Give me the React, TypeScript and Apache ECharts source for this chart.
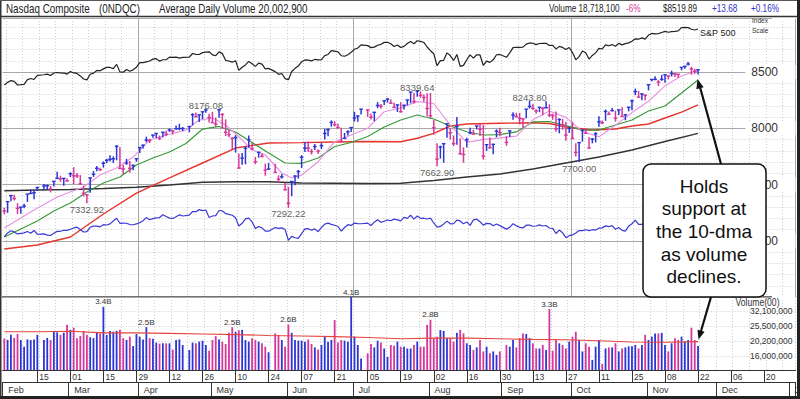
import React, { useEffect, useRef } from "react";
import * as echarts from "echarts";

const SANS = "'Liberation Sans', Arial, Helvetica, sans-serif";
const BLUE = "#2c36d4";
const MAGENTA = "#d7379b";
const NARROW_SCALE = 0.82;

// Daily data indexed by weekday, index 0 = Fri 2019-02-01 (null = market holiday)
const PRIOR_CLOSE = 7281.74;
const CLOSE = [
  7263.87, 7347.54, 7402.08, 7375.28, 7288.35, 7298.2, 7307.9, 7414.62, 7420.38, 7426.95,
  7472.41, null, 7486.77, 7489.07, 7459.71, 7527.54, 7554.46, 7549.3, 7554.51, 7532.53,
  7595.35, 7577.57, 7576.36, 7505.92, 7421.46, 7408.14, 7558.06, 7591.03, 7643.41, 7630.91,
  7688.53, 7714.48, 7723.95, 7728.97, 7838.96, 7642.67, 7637.54, 7691.52, 7643.38, 7669.17,
  7729.32, 7828.91, 7848.69, 7895.55, 7891.78, 7938.69, 7953.88, 7909.28, 7964.24, 7947.36,
  7984.16, 7976.01, 7996.08, 7996.79, 7998.06, null, 8015.27, 8120.82, 8102.01, 8118.68,
  8146.4, 8161.85, 8095.39, 8049.64, 8036.77, 8164.0, 8123.29, 7963.76, 7943.32, 7910.59,
  7916.94, 7647.02, 7734.49, 7822.15, 7898.05, 7816.28, 7702.38, 7785.72, 7750.84, 7628.28,
  7637.01, null, 7607.35, 7547.31, 7567.72, 7453.15, 7333.02, 7527.12, 7575.48, 7615.55,
  7742.1, 7823.17, 7822.57, 7792.72, 7837.13, 7796.66, 7845.02, 7953.88, 7987.32, 8051.34,
  8031.71, 8005.7, 7884.72, 7909.97, 7967.76, 8006.24, 8091.16, 8109.09, 8170.23, null,
  8161.79, 8098.38, 8141.73, 8202.53, 8196.04, 8244.14, 8258.19, 8222.8, 8185.21, 8207.24,
  8146.49, 8204.14, 8251.4, 8321.5, 8238.54, 8330.21, 8293.33, 8273.61, 8175.42, 8111.12,
  8004.07, 7726.04, 7833.27, 7862.83, 8039.16, 7959.14, 7863.41, 8016.36, 7773.94, 7766.62,
  7895.99, 7958.08, 7948.56, 8020.21, 7991.39, 7751.77, 7853.74, 7826.95, 7856.88, 7973.39,
  7962.88, null, 7874.16, 7976.88, 8116.83, 8103.07, 8087.44, 8084.16, 8169.68, 8194.47,
  8176.71, 8153.54, 8186.02, 8177.39, 8182.88, 8117.67, 8112.46, 7993.63, 8077.38, 8030.66,
  7939.63, 7999.34, 7908.68, 7785.25, 7872.27, 7982.47, 7956.29, 7823.78, 7903.74, 7950.78,
  8057.04, 8048.65, 8148.71, 8124.18, 8156.85, 8089.54, 8162.99, 8104.3, 8119.79, 8185.8,
  8243.12, 8325.99, 8276.85, 8303.98, 8292.36, 8386.4, 8433.2, 8434.68, 8410.63, 8434.52,
  8475.31, 8464.28, 8486.09, 8482.1, 8479.02, 8540.83, 8549.94, 8570.66, 8526.73, 8506.21,
  8519.89,
];
const HIGH = [
  7294, 7348, 7406, 7409, 7333, 7300, 7330, 7416, 7455, 7448,
  7480, null, 7505, 7500, 7486, 7528, 7613, 7578, 7558, 7554,
  7608, 7654, 7602, 7584, 7489, 7410, 7560, 7620, 7665, 7650,
  7705, 7728, 7760, 7750, 7850, 7832, 7676, 7728, 7710, 7678,
  7730, 7829, 7855, 7925, 7906, 7943, 7955, 7935, 7966, 7977,
  7998, 7986, 8025, 8040, 8010, null, 8020, 8134, 8140, 8123,
  8147, 8176.08, 8128, 8146, 8094, 8168, 8133, 8079, 7985, 7918,
  7939, 7775, 7781, 7839, 7936, 7871, 7745, 7792, 7777, 7685,
  7692, null, 7685, 7581, 7593, 7514, 7479, 7529, 7579, 7628,
  7761, 7877, 7882, 7816, 7860, 7812, 7868, 7994, 8000, 8070,
  8063, 8041, 8005, 7958, 7982, 8007, 8146, 8112, 8171, null,
  8170, 8131, 8144, 8232, 8215, 8245, 8270, 8255, 8227, 8212,
  8232, 8209, 8252, 8322, 8316, 8339.64, 8328, 8299, 8312, 8313,
  8073, 7867, 7845, 7867, 8040, 8002, 7935, 8101, 7911, 7830,
  7915, 8004, 7987, 8022, 8039, 8029, 7855, 7918, 7863, 7990,
  8004, null, 7929, 7980, 8143, 8138, 8137, 8085, 8170, 8243.8,
  8217, 8170, 8188, 8186, 8240, 8212, 8129, 8149, 8088, 8083,
  8057, 8006, 8058, 7866, 7873, 7983, 8000, 7920, 7913, 7966,
  8106, 8070, 8167, 8150, 8180, 8157, 8166, 8187, 8120, 8190,
  8255, 8352, 8331, 8314, 8300, 8387, 8437, 8462, 8428, 8474,
  8476, 8467, 8512, 8492, 8485, 8541, 8555, 8590, 8547, 8528,
  8526,
];
const LOW = [
  7235, 7248, 7352, 7358, 7237, 7240, 7290, 7345, 7415, 7370,
  7442, null, 7450, 7460, 7430, 7482, 7551, 7525, 7490, 7524,
  7566, 7503, 7558, 7500, 7395, 7332.92, 7426, 7568, 7618, 7622,
  7650, 7690, 7705, 7690, 7715, 7640, 7594, 7674, 7604, 7627,
  7702, 7780, 7820, 7876, 7869, 7916, 7911, 7895, 7918, 7928,
  7967, 7945, 7987, 7983, 7975, null, 7964, 8026, 8100, 8056,
  8081, 8137, 8052, 8047, 8016, 8094, 7995, 7930, 7919, 7815,
  7784, 7640, 7675, 7680, 7826, 7808, 7680, 7738, 7741, 7578,
  7630, null, 7605, 7515, 7554, 7449, 7292.22, 7396, 7494, 7553,
  7646, 7788, 7790, 7767, 7807, 7772, 7815, 7900, 7930, 8014,
  8016, 8000, 7872, 7905, 7936, 7967, 8060, 8058, 8122, null,
  8101, 8077, 8064, 8179, 8173, 8206, 8228, 8218, 8185, 8145,
  8140, 8167, 8204, 8222, 8219, 8279, 8271, 8236, 8106, 8087,
  7942, 7662.9, 7730, 7693, 7915, 7899, 7841, 7853, 7766, 7694,
  7830, 7946, 7943, 7990, 7931, 7722, 7799, 7819, 7770, 7920,
  7928, null, 7844, 7922, 8075, 8096, 8033, 8005, 8089, 8175,
  8165, 8128, 8143, 8115, 8177, 8100, 8076, 7970, 7955, 7987,
  7888, 7958, 7905, 7749, 7700, 7881, 7950, 7823, 7866, 7874,
  8014, 8036, 8066, 8123, 8148, 8059, 8117, 8102, 8071, 8150,
  8159, 8294, 8272, 8248, 8250, 8337, 8418, 8426, 8375, 8422,
  8405, 8434, 8460, 8456, 8448, 8515, 8528, 8558, 8476, 8484,
  8478,
];
// Volume in millions of "Volume(00)" units (i.e. x100 shares)
const VOLUME = [
  21.0, 20.5, 22.2, 21.2, 22.5, 20.5, 18.5, 20.7, 20.5, 20.7,
  22.2, null, 20.5, 21.2, 20.5, 23.3, 23.1, 22.2, 22.9, 25.9,
  24.0, 24.8, 21.1, 21.8, 23.6, 22.2, 21.4, 21.1, 22.9, 22.7,
  34.2, 22.2, 23.6, 23.3, 23.6, 24.0, 21.1, 20.5, 21.6, 18.7,
  22.5, 21.6, 20.7, 25.0, 21.1, 20.9, 19.7, 19.4, 19.5, 19.5,
  19.5, 17.7, 20.5, 20.7, 19.0, null, 17.6, 19.7, 19.5, 20.0,
  20.3, 19.0, 17.4, 20.5, 21.8, 20.7, 20.0, 19.3, 22.9, 25.0,
  23.3, 23.8, 24.0, 20.5, 20.0, 21.1, 20.5, 20.0, 19.5, 18.5,
  17.0, null, 22.7, 22.2, 20.5, 18.5, 26.0, 22.9, 20.5, 20.3,
  20.3, 20.0, 20.7, 19.3, 18.3, 17.7, 19.0, 21.6, 20.0, 20.5,
  27.9, 19.7, 20.5, 20.3, 20.0, 41.0, 21.6, 19.0, 15.4, null,
  16.7, 19.3, 18.3, 20.3, 19.7, 18.0, 15.8, 19.0, 18.8, 20.0,
  18.5, 18.5, 18.0, 18.0, 19.0, 20.0, 18.5, 18.5, 25.9, 28.0,
  21.1, 21.6, 23.9, 23.6, 21.1, 21.1, 20.0, 22.9, 24.0, 22.7,
  19.5, 19.0, 17.6, 18.3, 20.5, 17.2, 18.5, 16.7, 17.2, 16.3,
  17.2, null, 19.0, 18.5, 20.5, 18.3, 21.1, 22.7, 22.5, 21.1,
  19.5, 18.0, 18.0, 19.0, 17.6, 33.0, 17.4, 20.5, 19.5, 19.0,
  18.0, 20.0, 21.6, 23.3, 20.5, 17.2, 19.5, 18.5, 15.1, 18.5,
  20.5, 14.2, 18.0, 18.3, 18.3, 19.5, 17.2, 18.0, 18.3, 18.6,
  18.6, 19.0, 18.0, 19.0, 22.2, 20.5, 21.6, 22.7, 22.7, 22.9,
  19.0, 17.2, 19.5, 21.1, 20.5, 21.6, 20.0, 20.5, 24.8, 20.5,
  18.7181,
];
const SPX = [
  2706.53, 2724.87, 2737.7, 2731.61, 2706.05, 2707.88, 2709.8, 2744.73, 2753.03, 2745.73,
  2775.6, null, 2779.76, 2784.7, 2774.88, 2792.67, 2796.11, 2793.9, 2792.38, 2784.49,
  2803.69, 2792.81, 2789.65, 2771.45, 2748.93, 2743.07, 2783.3, 2791.52, 2810.92, 2808.48,
  2822.48, 2832.94, 2832.57, 2824.23, 2854.88, 2800.71, 2798.36, 2818.46, 2805.37, 2815.44,
  2834.4, 2867.19, 2867.24, 2873.4, 2879.39, 2892.74, 2895.77, 2878.2, 2888.21, 2888.32,
  2907.41, 2905.58, 2907.06, 2900.45, 2905.03, null, 2907.97, 2933.68, 2927.25, 2926.17,
  2939.88, 2943.03, 2945.83, 2923.73, 2917.52, 2945.64, 2932.47, 2884.05, 2879.42, 2870.72,
  2881.4, 2811.87, 2834.41, 2850.96, 2876.32, 2859.53, 2840.23, 2864.36, 2856.27, 2822.24,
  2826.06, null, 2802.39, 2783.02, 2788.86, 2752.06, 2744.45, 2803.27, 2826.15, 2843.49,
  2873.34, 2886.73, 2885.72, 2879.84, 2891.64, 2886.98, 2889.67, 2917.75, 2926.46, 2954.18,
  2950.46, 2945.35, 2917.38, 2913.78, 2924.92, 2941.76, 2964.33, 2973.01, 2995.82, null,
  2990.41, 2975.95, 2979.63, 2993.07, 2999.91, 3013.77, 3014.3, 3004.04, 2984.42, 2995.11,
  2976.61, 2985.03, 3005.47, 3019.56, 3003.67, 3025.86, 3020.97, 3013.18, 2980.38, 2953.56,
  2932.05, 2844.74, 2881.77, 2883.98, 2938.09, 2918.65, 2882.7, 2926.32, 2840.6, 2847.6,
  2888.68, 2923.65, 2900.51, 2924.43, 2922.95, 2847.11, 2878.38, 2869.16, 2887.94, 2924.58,
  2926.46, null, 2906.27, 2937.78, 2976.0, 2978.71, 2978.43, 2979.39, 3000.93, 3009.57,
  3007.39, 2997.96, 3005.7, 3006.73, 3006.79, 2992.07, 2991.78, 2966.6, 2984.87, 2977.62,
  2961.79, 2976.74, 2940.25, 2887.61, 2910.63, 2952.01, 2938.79, 2893.06, 2919.4, 2938.13,
  2970.27, 2966.15, 2995.68, 2989.69, 2997.95, 2986.2, 3006.72, 2995.99, 3004.52, 3010.29,
  3022.55, 3039.42, 3036.89, 3046.77, 3037.56, 3066.91, 3078.27, 3074.62, 3076.78, 3085.18,
  3093.08, 3087.01, 3091.84, 3094.04, 3096.63, 3120.46, 3122.03, 3120.18, 3108.46, 3103.54,
  3110.29,
];
// Moving averages: [weekday index, value]
const MA10 = [
  [0, 7113], [9, 7273], [16, 7389], [24, 7478], [29, 7584], [34, 7647], [39, 7744], [44, 7896],
  [49, 7940], [55, 7984], [59, 8073], [63, 8091], [67, 8029], [71, 7925], [75, 7807], [79, 7762],
  [84, 7602], [87, 7558], [90, 7584], [95, 7703], [100, 7880], [105, 7940], [110, 8000], [115, 8147],
  [120, 8180], [125, 8237], [130, 8220], [135, 8028], [140, 7874], [145, 7899], [150, 7914], [155, 7930],
  [160, 8075], [165, 8153], [170, 8097], [175, 7970], [180, 7924], [185, 8026], [190, 8139], [195, 8240],
  [200, 8377], [205, 8464], [210, 8513],
];
const MA21 = [
  [0, 7033], [5, 7104], [10, 7176], [15, 7264], [20, 7336], [25, 7433], [30, 7513], [35, 7567],
  [40, 7673], [45, 7736], [50, 7789], [55, 7864], [60, 7993], [65, 8016], [70, 7967], [75, 7873],
  [80, 7780], [85, 7691], [90, 7687], [95, 7736], [100, 7838], [105, 7873], [110, 7927], [115, 8011],
  [120, 8073], [125, 8118], [130, 8082], [135, 8020], [140, 7969], [145, 7940], [150, 7944], [155, 7967],
  [160, 8056], [165, 8060], [170, 8024], [175, 7984], [180, 7984], [185, 8029], [190, 8073], [195, 8153],
  [200, 8198], [205, 8313], [210, 8429],
];
const MA50 = [
  [0, 6927], [10, 6962], [20, 7033], [30, 7238], [40, 7424], [50, 7558], [60, 7691], [70, 7824],
  [80, 7869], [90, 7872], [100, 7878], [110, 7882], [120, 7880], [125, 7911], [130, 7955], [135, 8020],
  [140, 8038], [150, 8044], [160, 8049], [165, 8042], [170, 8011], [178, 7984], [185, 7993], [190, 8020],
  [195, 8038], [200, 8091], [205, 8144], [210, 8207],
];
const MA200 = [
  [0, 7445], [10, 7451], [20, 7456], [30, 7464], [40, 7475], [50, 7496], [60, 7520], [70, 7525],
  [80, 7525], [90, 7513], [100, 7511], [110, 7509], [120, 7511], [130, 7536], [140, 7567], [150, 7593],
  [160, 7638], [170, 7691], [180, 7744], [190, 7807], [200, 7882], [210, 7955],
];
const VOL_AVG = [
  [0, 23.3], [10, 23.3], [20, 23.5], [30, 22.9], [40, 22.9], [50, 22.7], [60, 22.5], [70, 22.3],
  [80, 22.0], [90, 21.8], [100, 21.6], [110, 21.3], [120, 20.9], [130, 21.1], [140, 21.1], [150, 20.9],
  [160, 20.7], [170, 20.6], [180, 20.3], [190, 19.9], [200, 19.8], [210, 20.0029],
];
const PIVOT_HIGHS = [[61, 8176.08], [125, 8339.64], [159, 8243.8]];
const PIVOT_LOWS = [[25, 7332.92], [86, 7292.22], [131, 7662.9], [174, 7700.0]];
const VOLUME_CALLOUTS = [30, 43, 69, 86, 105, 129, 165];
const VOLUME_TICKS = [16.0, 20.2, 25.5, 32.1];
const PRICE_MIN = 6500;
const PRICE_MAX = 8980;

const WEEKDAY_COUNT = 240;
const MONTH_NAMES = ["Jan", "Feb", "Mar", "Apr", "May", "Jun", "Jul", "Aug", "Sep", "Oct", "Nov", "Dec"];
const QUARTER_FIRST_DAYS = ["2019-04-01", "2019-07-01", "2019-10-01"];

function buildWeekdays(): string[] {
  const out: string[] = [];
  let t = Date.UTC(2019, 1, 1);
  while (out.length < WEEKDAY_COUNT) {
    const d = new Date(t);
    const wd = d.getUTCDay();
    if (wd !== 0 && wd !== 6) out.push(d.toISOString().slice(0, 10));
    t += 86400000;
  }
  return out;
}

const fmtInt = (n: number) => Math.round(n).toLocaleString("en-US");

// narrow-looking text (horizontally condensed like the source chart's font)
function narrowText(text: string, x: number, y: number, size: number, fill: string, z = 91) {
  return {
    type: "text", z, x, y, scaleX: NARROW_SCALE,
    style: { text, fontSize: size, fontFamily: SANS, fill, verticalAlign: "middle", align: "left" },
  };
}

export default function App() {
  const ref = useRef<HTMLDivElement>(null);
  useEffect(() => {
    if (!ref.current) return;
    const chart = echarts.init(ref.current, undefined, { renderer: "svg" });
    const days = buildWeekdays();
    const monthStart = new Set<number>();
    days.forEach((d, i) => {
      if (i === 0 || d.slice(5, 7) !== days[i - 1].slice(5, 7)) monthStart.add(i);
    });
    const quarterIdx = new Set(QUARTER_FIRST_DAYS.map((d) => days.indexOf(d)));

    const up: boolean[] = [];
    let prev = PRIOR_CLOSE;
    CLOSE.forEach((c) => {
      if (c == null) { up.push(false); return; }
      up.push(c >= prev);
      prev = c;
    });

    const ohlc: any[] = [];
    CLOSE.forEach((c, i) => {
      if (c == null) return;
      ohlc.push([i, HIGH[i], LOW[i], c, up[i] ? 1 : 0]);
    });
    const rs = CLOSE.map((c, i) => (c == null || SPX[i] == null ? null : [i, c / (SPX[i] as number)])).filter(Boolean);
    const spx = SPX.map((v, i) => (v == null ? null : [i, v])).filter(Boolean);
    const volData = VOLUME.map((v, i) =>
      v == null
        ? null
        : { value: v, itemStyle: { color: up[i] ? BLUE : MAGENTA }, label: { show: VOLUME_CALLOUTS.includes(i) } }
    );

    const lastIdx = CLOSE.length - 1;
    const lastClose = CLOSE[lastIdx] as number;
    const prevClose = CLOSE[lastIdx - 1] as number;
    const chg = lastClose - prevClose;
    const lastVol = VOLUME[lastIdx] as number;
    const avgVol = VOL_AVG[VOL_AVG.length - 1][1];
    const volPct = Math.round((lastVol / avgVol - 1) * 100);

    const dotted = { color: "#cdcdcd", type: [1, 2] as any, width: 1 };
    const mondayLine = (i: number) => i % 5 === 1;
    const dayTick = (i: number) => i > 0 && i % 10 === 0;
    const monthTick = (i: number) => monthStart.has(i);

    const catAxisBase = { type: "category" as const, data: days, boundaryGap: true };

    const option: any = {
      animation: false,
      backgroundColor: "#ffffff",
      textStyle: { fontFamily: SANS },
      grid: [
        { left: 2.65, right: 4.5, top: 18, bottom: 102, outerBoundsMode: "none", containLabel: false },
        { left: 2.65, right: 4.5, top: 297, bottom: 29, outerBoundsMode: "none", containLabel: false },
      ],
      xAxis: [
        {
          ...catAxisBase, gridIndex: 0,
          axisLine: { show: true, lineStyle: { color: "#444", width: 1.5 } },
          axisTick: { show: false }, axisLabel: { show: false },
          splitLine: { show: true, interval: mondayLine, lineStyle: dotted },
        },
        {
          ...catAxisBase, gridIndex: 0,
          axisLine: { show: false }, axisTick: { show: false }, axisLabel: { show: false },
          splitLine: { show: true, interval: (i: number) => quarterIdx.has(i), lineStyle: { color: "#a8a8a8", width: 1 } },
        },
        {
          ...catAxisBase, gridIndex: 1, position: "bottom",
          axisLine: { show: true, lineStyle: { color: "#333", width: 1 } },
          axisTick: { show: true, interval: dayTick, alignWithLabel: true, length: 12, lineStyle: { color: "#333" } },
          axisLabel: {
            show: true, interval: dayTick, formatter: (v: string) => v.slice(8, 10),
            align: "left", verticalAlign: "top", margin: 2.5, padding: [0, 0, 0, 2],
            fontSize: 8.5, fontFamily: SANS, color: "#333",
          },
          splitLine: { show: true, interval: mondayLine, lineStyle: dotted },
        },
        {
          ...catAxisBase, gridIndex: 1, position: "bottom", offset: 12,
          axisLine: { show: true, lineStyle: { color: "#333", width: 1 } },
          axisTick: { show: true, interval: monthTick, length: 14, lineStyle: { color: "#333" } },
          axisLabel: {
            show: true, interval: monthTick, formatter: (v: string) => MONTH_NAMES[Number(v.slice(5, 7)) - 1],
            align: "left", verticalAlign: "top", margin: 3.5, padding: [0, 0, 0, 4],
            fontSize: 9, fontFamily: SANS, color: "#333",
          },
          splitLine: { show: false },
        },
      ],
      yAxis: [
        {
          type: "value", gridIndex: 0, position: "right", min: PRICE_MIN, max: PRICE_MAX, interval: 500,
          axisLine: { show: false }, axisTick: { show: false },
          axisLabel: {
            inside: true, margin: 0, fontSize: 12, fontFamily: SANS, color: "#333",
            backgroundColor: "#ffffff", padding: [1, 17.5, 1, 6],
            formatter: (v: number) => (v % 500 === 0 && v > PRICE_MIN && v < PRICE_MAX ? String(v) : ""),
          },
          splitLine: { show: true, lineStyle: { color: "#a8a8a8", width: 1 } },
          z: 3,
        },
        {
          type: "value", gridIndex: 0, position: "right", min: PRICE_MIN, max: PRICE_MAX, interval: 100,
          axisLine: { show: false }, axisTick: { show: false }, axisLabel: { show: false },
          splitLine: { show: true, lineStyle: dotted },
        },
        { type: "value", gridIndex: 0, min: 1174, max: 3190, show: false },
        { type: "value", gridIndex: 0, min: 2.4823, max: 3.4154, show: false },
        {
          type: "log", logBase: 10, gridIndex: 1, position: "right", min: 12.92, max: 39.79,
          axisLine: { show: false },
          axisTick: { show: false, customValues: VOLUME_TICKS },
          axisLabel: {
            inside: true, margin: 3, customValues: VOLUME_TICKS,
            formatter: (v: number) => fmtInt(v * 1e6),
            fontSize: 8.5, fontFamily: SANS, color: "#333",
          },
          splitLine: { show: true, lineStyle: dotted },
        },
      ],
      series: [
        {
          type: "line", name: "200-dma", xAxisIndex: 0, yAxisIndex: 0, data: MA200, symbol: "none",
          lineStyle: { color: "#333333", width: 1.4 }, z: 3,
        },
        {
          type: "line", name: "50-dma", xAxisIndex: 0, yAxisIndex: 0, data: MA50, symbol: "none",
          lineStyle: { color: "#e5352c", width: 1.4 }, z: 3,
        },
        {
          type: "line", name: "21-dma", xAxisIndex: 0, yAxisIndex: 0, data: MA21, symbol: "none",
          lineStyle: { color: "#3a9a3a", width: 1.2 }, z: 3,
        },
        {
          type: "line", name: "10-dma", xAxisIndex: 0, yAxisIndex: 0, data: MA10, symbol: "none",
          lineStyle: { color: "#e993e4", width: 1.2 }, z: 3,
        },
        {
          type: "line", name: "S&P 500", xAxisIndex: 0, yAxisIndex: 2, data: spx, symbol: "none",
          connectNulls: true, lineStyle: { color: "#222", width: 1.2 }, z: 3,
          endLabel: {
            show: true, formatter: "S&P 500", distance: 2, offset: [0, 4],
            fontSize: 9, fontFamily: SANS, color: "#222",
          },
        },
        {
          type: "line", name: "RS", xAxisIndex: 0, yAxisIndex: 3, data: rs, symbol: "none",
          connectNulls: true, lineStyle: { color: "#3b3bd4", width: 1.2 }, z: 3,
        },
        {
          type: "custom", name: "Nasdaq", xAxisIndex: 0, yAxisIndex: 0, data: ohlc,
          encode: { x: 0, y: [1, 2, 3] }, z: 4,
          renderItem: (_p: any, api: any) => {
            const i = api.value(0);
            const hi = api.coord([i, api.value(1)]);
            const lo = api.coord([i, api.value(2)]);
            const cl = api.coord([i, api.value(3)]);
            const color = api.value(4) > 0 ? BLUE : MAGENTA;
            return {
              type: "group",
              children: [
                { type: "line", shape: { x1: hi[0], y1: hi[1], x2: lo[0], y2: lo[1] }, style: { stroke: color, lineWidth: 1.5 } },
                { type: "line", shape: { x1: cl[0] - 1.8, y1: cl[1], x2: cl[0] + 1.8, y2: cl[1] }, style: { stroke: color, lineWidth: 1.4 } },
              ],
            };
          },
        },
        {
          type: "scatter", name: "highs", xAxisIndex: 0, yAxisIndex: 0, data: PIVOT_HIGHS,
          symbolSize: 1, itemStyle: { color: "rgba(0,0,0,0)" }, z: 6,
          label: {
            show: true, position: "inside", offset: [0, -3],
            formatter: (p: any) => p.value[1].toFixed(2), fontSize: 9.5, fontFamily: SANS, color: "#333",
          },
        },
        {
          type: "scatter", name: "lows", xAxisIndex: 0, yAxisIndex: 0, data: PIVOT_LOWS,
          symbolSize: 1, itemStyle: { color: "rgba(0,0,0,0)" }, z: 6,
          label: {
            show: true, position: "inside", offset: [0, 6],
            formatter: (p: any) => p.value[1].toFixed(2), fontSize: 9.5, fontFamily: SANS, color: "#333",
          },
        },
        {
          type: "bar", name: "Volume", xAxisIndex: 2, yAxisIndex: 4, data: volData, barWidth: 1.8, clip: true,
          label: {
            show: false, position: "top", distance: 1,
            formatter: (p: any) => (p.value / 10).toFixed(1) + "B",
            fontSize: 8, fontFamily: SANS, color: "#333",
          },
          z: 4,
        },
        {
          type: "line", name: "Avg volume", xAxisIndex: 2, yAxisIndex: 4, data: VOL_AVG, symbol: "none",
          lineStyle: { color: "#e4463f", width: 1.1 }, z: 5,
        },
      ],
      graphic: [
        { type: "rect", z: 90, shape: { x: 0, y: 0, width: 800, height: 16 }, style: { fill: "#fff" } },
        narrowText("Nasdaq Composite", 6, 8.5, 12, "#222"),
        narrowText("(0NDQC)", 99, 8.5, 12, "#222"),
        narrowText("Average Daily Volume " + fmtInt(avgVol * 1e6), 159, 8.5, 12, "#222"),
        narrowText("Volume " + fmtInt(lastVol * 1e6), 549, 8.5, 10, "#222"),
        narrowText(volPct + "%", 626, 8.5, 10, MAGENTA),
        narrowText("$" + lastClose.toFixed(2), 663, 8.5, 10, "#222"),
        narrowText((chg >= 0 ? "+" : "") + chg.toFixed(2), 712, 8.5, 10, "#3333cc"),
        narrowText((chg >= 0 ? "+" : "") + ((chg / prevClose) * 100).toFixed(2) + "%", 751, 8.5, 10, "#3333cc"),
        { type: "line", z: 95, shape: { x1: 0, y1: 16.5, x2: 800, y2: 16.5 }, style: { stroke: "#333", lineWidth: 1.5 } },
        narrowText("Index", 752, 20.5, 8, "#333"),
        narrowText("Scale", 752, 30.5, 8, "#333"),
        narrowText("Volume(00)", 735.5, 302.5, 10.5, "#333"),
        { type: "rect", z: 100, shape: { x: 643, y: 164, width: 123, height: 133, r: 8 }, style: { fill: "#fff", stroke: "#111", lineWidth: 1.5 } },
        {
          type: "text", z: 101, x: 704, y: 231.5,
          style: { text: "Holds\nsupport at\nthe 10-dma\nas volume\ndeclines.", align: "center", verticalAlign: "middle", fontSize: 19, lineHeight: 22.7, fontFamily: SANS, fill: "#111" },
        },
        { type: "line", z: 102, shape: { x1: 721, y1: 164, x2: 700, y2: 87 }, style: { stroke: "#111", lineWidth: 2.2 } },
        { type: "polygon", z: 102, shape: { points: [[697.5, 79], [703.6, 87.2], [696.4, 89.2]] }, style: { fill: "#111" } },
        { type: "line", z: 102, shape: { x1: 711, y1: 297, x2: 701, y2: 331 }, style: { stroke: "#111", lineWidth: 2.2 } },
        { type: "polygon", z: 102, shape: { points: [[698.5, 339.5], [704.6, 331.8], [697.5, 329.8]] }, style: { fill: "#111" } },
        { type: "line", z: 110, shape: { x1: 0.75, y1: 0, x2: 0.75, y2: 399 }, style: { stroke: "#333", lineWidth: 1.5 } },
        { type: "line", z: 110, shape: { x1: 0, y1: 0.5, x2: 800, y2: 0.5 }, style: { stroke: "#555", lineWidth: 1 } },
        { type: "line", z: 110, shape: { x1: 798.5, y1: 0, x2: 798.5, y2: 399 }, style: { stroke: "#222", lineWidth: 3 } },
        { type: "line", z: 110, shape: { x1: 0, y1: 397.5, x2: 800, y2: 397.5 }, style: { stroke: "#222", lineWidth: 3 } },
      ],
    };
    chart.setOption(option);
    return () => chart.dispose();
  }, []);
  return (
    <div
      ref={ref}
      style={{ position: "fixed", left: 0, top: 0, width: 800, height: 399, background: "#fff" }}
    />
  );
}
